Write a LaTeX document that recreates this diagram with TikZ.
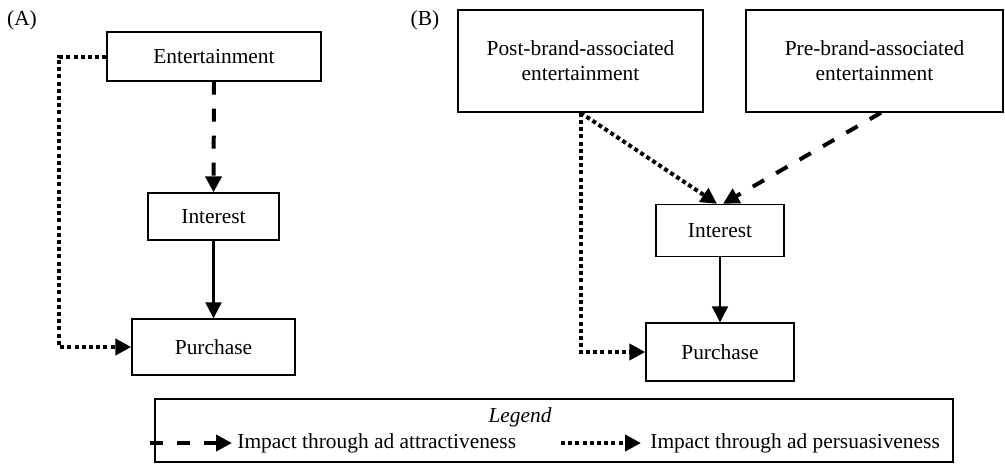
\documentclass[tikz,border=0pt]{standalone}
\usepackage{fontspec}
\setmainfont{Liberation Serif}
\usetikzlibrary{arrows.meta}
\tikzset{
  box/.style={draw=black, line width=0.7pt, fill=white, align=center, inner sep=0pt},
  tip/.style={-{Triangle[length=8pt,width=8pt]}},
  solidarrow/.style={tip, line width=1.1pt},
  dasharrow/.style={tip, line width=2pt, dash pattern=on 6.5pt off 7pt},
  dotarrow/.style={tip, line width=2pt, dash pattern=on 2pt off 1.6pt},
  lbl/.style={inner sep=0pt, anchor=west}
}
\begin{document}
\begin{tikzpicture}[x=0.5pt,y=-0.5pt,font=\fontsize{10.7}{12.5}\selectfont]
\useasboundingbox (0,0) rectangle (1005,463);
% panel A
\node[inner sep=0pt] (la) at (22,20) {(A)};
\node[box, minimum width=107pt, minimum height=24.5pt] (ent) at (214,56.5) {Entertainment};
\node[box, minimum width=65.5pt, minimum height=23.5pt] (intA) at (213.5,216.5) {Interest};
\node[box, minimum width=81.5pt, minimum height=28pt] (purA) at (213.5,347) {Purchase};
\draw[dasharrow] (ent.south) -- (intA.north);
\draw[solidarrow] (intA.south) -- (purA.north);
\draw[dotarrow] (ent.west) -- ++(-47,0) |- (purA.west);
% panel B
\node[inner sep=0pt] (lb) at (425,20) {(B)};
\node[box, minimum width=122.5pt, minimum height=51pt] (post) at (580.5,61) {Post-brand-associated\\entertainment};
\node[box, minimum width=128.5pt, minimum height=51pt] (pre) at (874.5,61) {Pre-brand-associated\\entertainment};
\node[box, minimum width=64pt, minimum height=26pt] (intB) at (720,230.5) {Interest};
\node[box, minimum width=74pt, minimum height=29pt] (purB) at (720,352) {Purchase};
\draw[solidarrow] (intB.south) -- (purB.north);
\draw[dotarrow] (post.south) |- (purB.west);
\draw[dotarrow] (post.south) -- ([xshift=-1.5pt]intB.north);
\draw[dasharrow] ([xshift=3.25pt]pre.south) -- ([xshift=1.5pt]intB.north);
% legend
\node[draw=black, line width=0.7pt, minimum width=399pt, minimum height=31.5pt, inner sep=0pt] (legbox) at (554,430.5) {};
\node[inner sep=0pt] (legt) at (520,417) {\itshape Legend};
\coordinate (d1) at (150,443);
\coordinate (d2) at (232,443);
\draw[dasharrow] (d1) -- (d2);
\node[lbl] (dtext) at (237,443) {Impact through ad attractiveness};
\coordinate (p1) at (561,443);
\coordinate (p2) at (641,443);
\draw[dotarrow] (p1) -- (p2);
\node[lbl] (ptext) at (650,443) {Impact through ad persuasiveness};
\end{tikzpicture}
\end{document}
